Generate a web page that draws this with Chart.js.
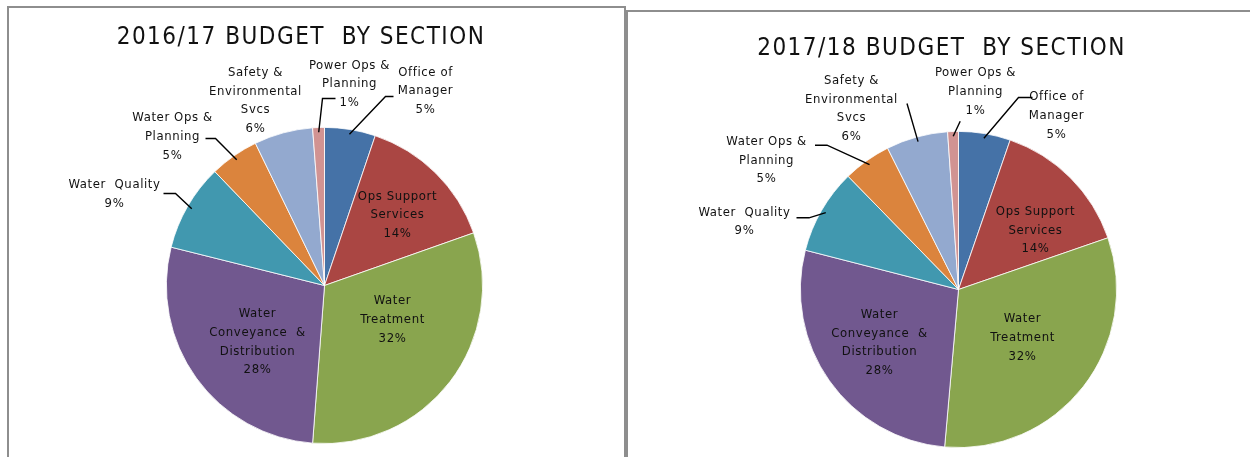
<!DOCTYPE html>
<html><head><meta charset="utf-8">
<script src="https://cdn.jsdelivr.net/npm/chart.js@4/dist/chart.umd.min.js"></script>
<style>
body{margin:0;background:#fff;width:1250px;height:457px;overflow:hidden;position:relative}
.box{position:absolute;border:2px solid #8e8e8e;box-sizing:border-box}
canvas{position:absolute}
</style></head><body>
<div class="box" style="left:7px;top:6px;width:619px;height:480px"></div>
<div class="box" style="left:626px;top:10px;width:660px;height:480px"></div>
<canvas id="c1" width="627" height="457" style="left:0;top:0"></canvas>
<canvas id="c2" width="623" height="457" style="left:627px;top:0"></canvas>
<script>
// ---- data ----
const categories = [
  ["Office of", "Manager"],
  ["Ops Support", "Services"],
  ["Water", "Treatment"],
  ["Water", "Conveyance  &", "Distribution"],
  ["Water  Quality"],
  ["Water Ops &", "Planning"],
  ["Safety &", "Environmental", "Svcs"],
  ["Power Ops &", "Planning"]
];
const values1617 = [5.2, 14.4, 31.6, 27.7, 8.9, 5.0, 6.0, 1.2];
const values1718 = [5.3, 14.4, 31.7, 27.6, 8.7, 4.9, 6.3, 1.1];
const titles = ["2016/17 BUDGET  BY SECTION", "2017/18 BUDGET  BY SECTION"];

// ---- style ----
const sliceColors = ["#4572A7", "#AA4643", "#89A54E", "#71588F", "#4198AF", "#DB843D", "#93A9CF", "#D19392"];
const FONT = '"Liberation Sans Narrow", "DejaVu Sans Condensed", "Liberation Sans", sans-serif';

// label placement (offsets from pie centre) and leader lines
const layout1617 = [
  {dx: 101, dy: -194.5, lead: {sx: -32, sy: 5.5, h: -8}},
  {dx: 73, dy: -70.5},
  {dx: 68, dy: 34},
  {dx: -67, dy: 56.5},
  {dx: -210, dy: -91.5, lead: {sx: 49, sy: -0.5, h: 12}},
  {dx: -152, dy: -149, lead: {sx: 33, sy: 2, h: 10}},
  {dx: -69, dy: -185},
  {dx: 25, dy: -201.5, lead: {sx: -14, sy: 14.5, h: -13}}
];
const layout1718 = [
  {dx: 98, dy: -174, lead: {sx: -24, sy: -18, h: -14}},
  {dx: 77, dy: -59.3},
  {dx: 64, dy: 48.3},
  {dx: -79, dy: 53},
  {dx: -214, dy: -68, lead: {sx: 52, sy: -3.7, h: 12.5}},
  {dx: -192, dy: -129.3, lead: {sx: 48.5, sy: -15, h: 12}},
  {dx: -107, dy: -181, lead: {sx: 55.5, sy: -5, h: 0}},
  {dx: 17, dy: -197.7, lead: {sx: -15.3, sy: 29.4, h: 0}}
];

const sliceLabels = {
  id: 'sliceLabels',
  afterDraw(chart, args, opts) {
    const ctx = chart.ctx;
    const meta = chart.getDatasetMeta(0);
    const data = chart.data.datasets[0].data;
    const total = data.reduce((a, b) => a + b, 0);
    ctx.save();
    // title
    ctx.fillStyle = '#111';
    ctx.font = '24px ' + FONT;
    ctx.letterSpacing = opts.titleLetterSpacing;
    ctx.textAlign = 'center';
    ctx.textBaseline = 'alphabetic';
    ctx.fillText(opts.title, opts.titleX, opts.titleY);
    // labels
    ctx.font = '13px ' + FONT;
    ctx.letterSpacing = opts.labelLetterSpacing;
    ctx.textBaseline = 'middle';
    const lh = opts.lineHeight;
    meta.data.forEach((arc, i) => {
      const p = arc.getProps(['x', 'y', 'startAngle', 'endAngle', 'outerRadius'], true);
      const L = opts.layout[i];
      const lines = [].concat(chart.data.labels[i], Math.round(data[i] / total * 100) + '%');
      const cx = p.x + L.dx, cy = p.y + L.dy;
      const top = cy - (lines.length - 1) * lh / 2;
      lines.forEach((t, k) => ctx.fillText(t, cx, top + k * lh));
      if (L.lead) {
        const mid = (p.startAngle + p.endAngle) / 2;
        const r = p.outerRadius * 0.97;
        const sx = cx + L.lead.sx, sy = cy + L.lead.sy;
        ctx.beginPath();
        ctx.strokeStyle = '#000';
        ctx.lineWidth = 1.4;
        ctx.moveTo(sx, sy);
        ctx.lineTo(sx + L.lead.h, sy);
        ctx.lineTo(p.x + Math.cos(mid) * r, p.y + Math.sin(mid) * r);
        ctx.stroke();
      }
    });
    ctx.restore();
  }
};

function makePie(id, values, title, lay, padding, titleX, titleY) {
  return new Chart(document.getElementById(id), {
    type: 'pie',
    data: {
      labels: categories,
      datasets: [{data: values, backgroundColor: sliceColors, borderColor: '#ffffff', borderWidth: 0.8, hoverOffset: 0, offset: 0}]
    },
    options: {
      responsive: false, devicePixelRatio: 1, animation: false, events: [],
      layout: {padding: padding},
      plugins: {
        legend: {display: false}, tooltip: {enabled: false},
        sliceLabels: {title: title, titleX: titleX, titleY: titleY, layout: lay,
          lineHeight: 18.7, titleLetterSpacing: '1.5px', labelLetterSpacing: '0.6px'}
      }
    },
    plugins: [sliceLabels]
  });
}
makePie('c1', values1617, titles[0], layout1617, {left: 166, right: 144, top: 127, bottom: 13}, 301, 43.5);
makePie('c2', values1718, titles[1], layout1718, {left: 173, right: 133, top: 131, bottom: 9}, 314.5, 55);
</script>
</body></html>
